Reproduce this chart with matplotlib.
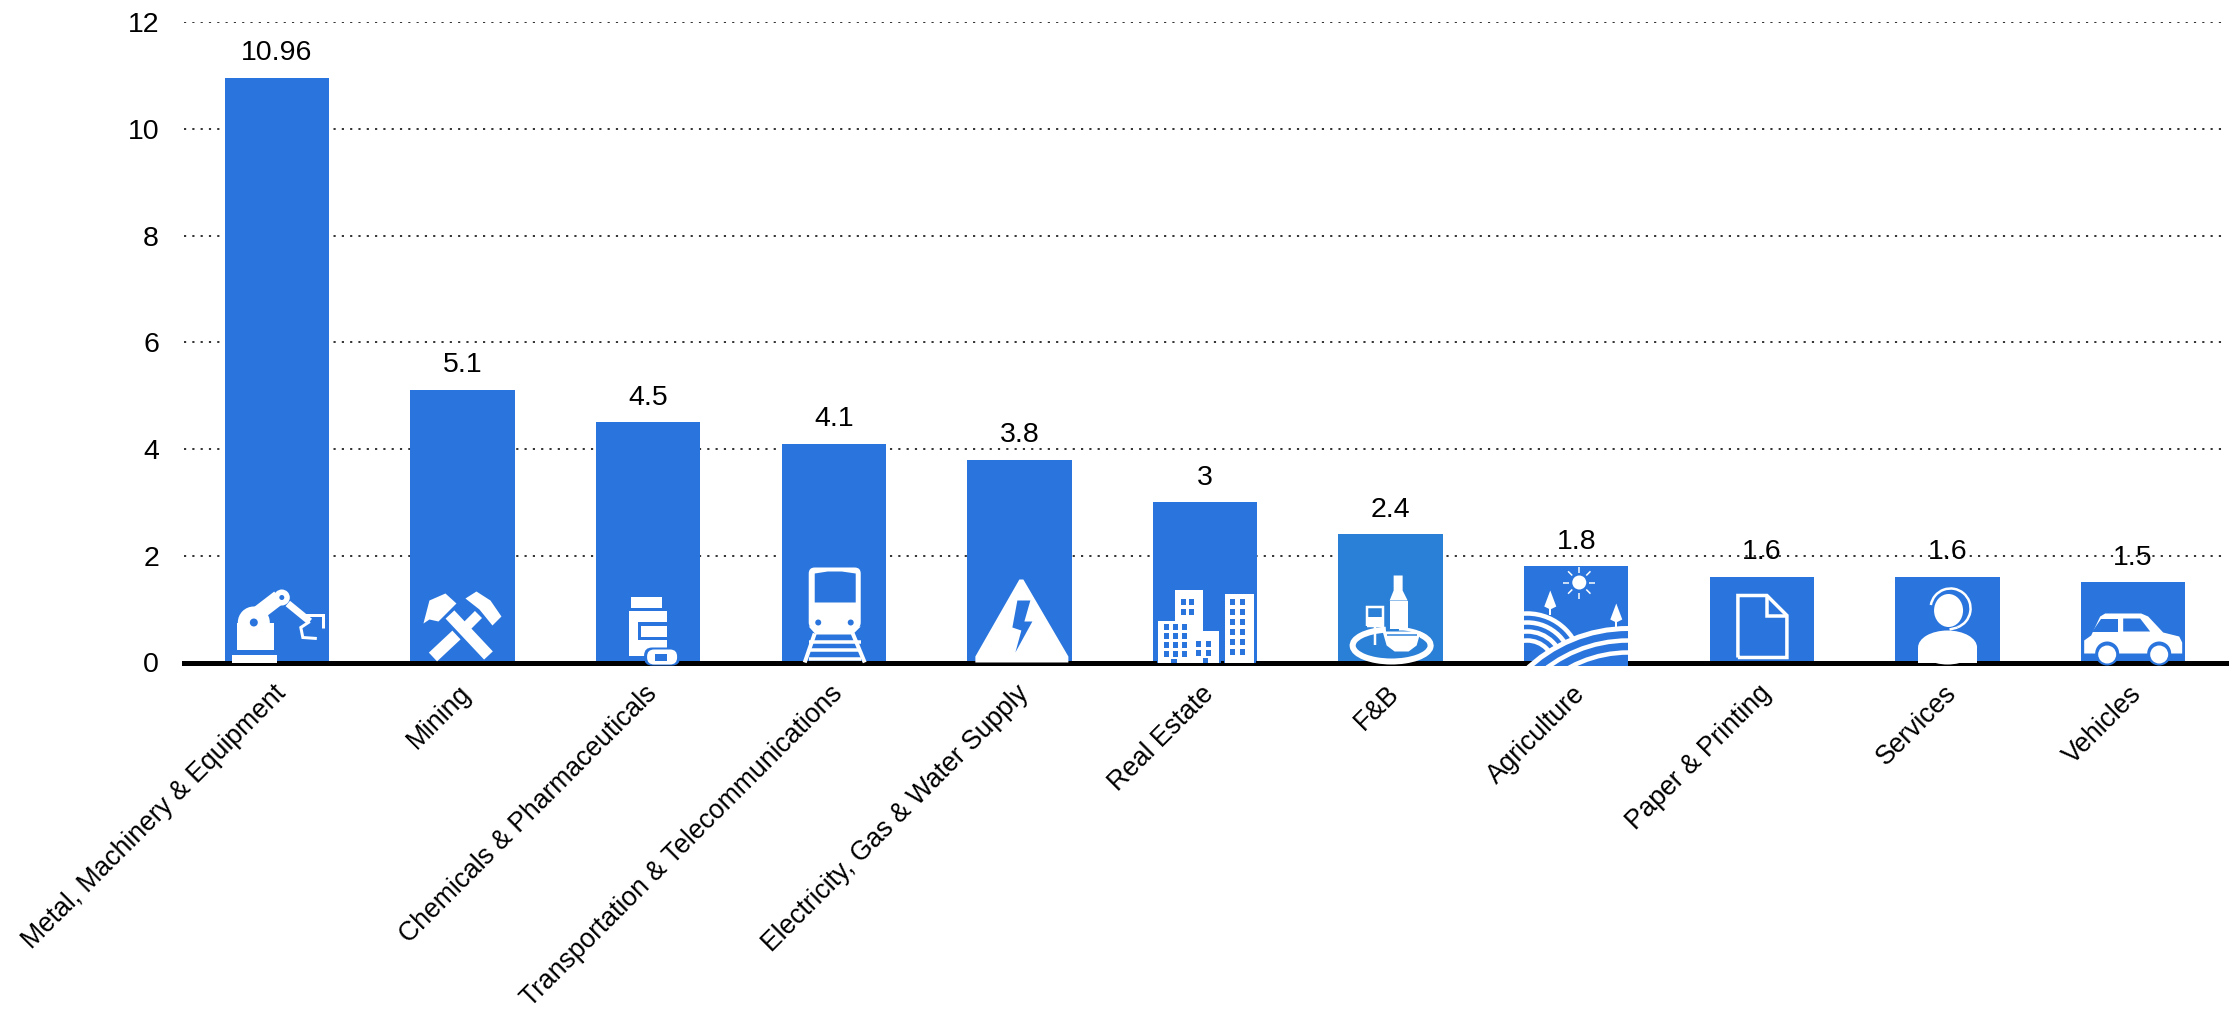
import matplotlib
matplotlib.use("Agg")
import matplotlib.pyplot as plt
from matplotlib.patches import Polygon, Circle, Rectangle, Ellipse, FancyBboxPatch, Arc
from matplotlib.transforms import Affine2D

plt.rcParams['font.family'] = ['Liberation Sans', 'DejaVu Sans']

categories = ["Metal, Machinery & Equipment", "Mining", "Chemicals & Pharmaceuticals",
              "Transportation & Telecommunications", "Electricity, Gas & Water Supply",
              "Real Estate", "F&B", "Agriculture", "Paper & Printing", "Services", "Vehicles"]
values = [10.96, 5.1, 4.5, 4.1, 3.8, 3, 2.4, 1.8, 1.6, 1.6, 1.5]
value_labels = ["10.96", "5.1", "4.5", "4.1", "3.8", "3", "2.4", "1.8", "1.6", "1.6", "1.5"]
y_ticks = [0, 2, 4, 6, 8, 10, 12]

BLUE = "#2a75dd"
FB_BLUE = "#2a7fd6"
W = "white"

W_PX, H_PX = 2237, 1011
fig = plt.figure(figsize=(W_PX / 100, H_PX / 100), dpi=100, facecolor="white")
L, R, T, B = 184, 2226, 22, 662.5
ax = fig.add_axes([L / W_PX, 1 - B / H_PX, (R - L) / W_PX, (B - T) / H_PX])
ax.set_xlim(-0.5, len(categories) - 0.5)
ax.set_ylim(0, 12)

colors = [FB_BLUE if c == "F&B" else BLUE for c in categories]
ax.bar(range(len(values)), values, width=0.5625, color=colors, zorder=2)
ax.set_axisbelow(True)
ax.yaxis.grid(True, color="#222222", linewidth=1.3, linestyle=(0, (1.2, 3.4)), zorder=1)
ax.xaxis.grid(False)
for s in ["top", "right", "left"]:
    ax.spines[s].set_visible(False)
ax.spines["bottom"].set_linewidth(3.6)
ax.spines["bottom"].set_color("black")
ax.spines["bottom"].set_zorder(3)
ax.set_yticks(y_ticks)
ax.tick_params(axis="y", length=0, pad=18, labelsize=20.5, labelcolor="#000000")
ax.tick_params(axis="x", length=0)
ax.set_xticks(range(len(categories)))
ax.set_xticklabels([])
for i, c in enumerate(categories):
    ax.annotate(c, (i, 0), xytext=(-3, -13), textcoords="offset points", rotation=45,
                ha="right", va="top", rotation_mode="anchor", fontsize=19.1, color="#000000",
                annotation_clip=False)
for i, (v, t) in enumerate(zip(values, value_labels)):
    ax.annotate(t, (i, v), xytext=(0, 8.5), textcoords="offset points", ha="center",
                va="bottom", fontsize=20.5, color="#000000", zorder=5)

px_x = (R - L) / len(categories)
px_y = (B - T) / 12
pt = 0.72


def tr(i):
    return Affine2D().scale(1 / px_x, 1 / px_y).translate(i, 0) + ax.transData


def add(i, p, z=4):
    p.set_transform(tr(i))
    p.set_zorder(z)
    p.set_clip_on(False)
    ax.add_patch(p)
    return p


def poly(i, pts, c=W, z=4):
    return add(i, Polygon(pts, closed=True, facecolor=c, edgecolor="none"), z)


def rect(i, x0, x1, y0, y1, c=W, z=4):
    return add(i, Rectangle((x0, y0), x1 - x0, y1 - y0, facecolor=c, edgecolor="none"), z)


def circ(i, x, y, r, c=W, z=4):
    return add(i, Circle((x, y), r, facecolor=c, edgecolor="none"), z)


def line(i, xs, ys, w=3, c=W, z=4, cap="butt"):
    l, = ax.plot(xs, ys, color=c, lw=w * pt, transform=tr(i), zorder=z, clip_on=False,
                 solid_capstyle=cap, solid_joinstyle="miter")
    return l


# robot arm
i = 0
rect(i, -45, 0, 0, 8)
rect(i, -40, -3, 13, 40)
circ(i, -23, 40, 16)
line(i, [-28, 2], [42, 65], 15)
circ(i, -23, 40, 4, BLUE, 5)
circ(i, 5, 65, 8)
circ(i, 5, 65, 2.5, BLUE, 5)
line(i, [11, 33], [59, 41], 7)
line(i, [26, 46, 46], [48, 48, 35], 3)
line(i, [33, 24, 26, 40], [41, 35, 25, 24], 3)

# crossed hammers
i = 1
line(i, [-12.5, 26], [48, 7], 12)
line(i, [-6, -29.5], [27.5, 5.5], 12)
line(i, [16, 5], [48, 37], 10)
poly(i, [(-39, 39), (-33, 62), (-17, 69), (-6, 59), (-24, 41), (-33, 43)])
poly(i, [(3, 64), (14, 71), (28, 62), (39, 46), (30, 37), (17, 53)])

# medicine bottle
i = 2
rect(i, -17, 14, 55, 66)
rect(i, -19, 19, 7, 52)
rect(i, -10, 19, 23, 41, BLUE, 5)
rect(i, -7, 19, 26, 37, W, 5)
add(i, FancyBboxPatch((-4, -3), 36, 18, boxstyle="round,pad=0,rounding_size=8",
                      facecolor=BLUE, edgecolor="none"), 5)
add(i, FancyBboxPatch((-1, -2), 30, 15, boxstyle="round,pad=0,rounding_size=7",
                      facecolor=W, edgecolor="none"), 6)
rect(i, 7, 19, 2, 9, BLUE, 7)

# train
i = 3
add(i, FancyBboxPatch((-25, 34), 52, 61, boxstyle="round,pad=0,rounding_size=6",
                      facecolor=W, edgecolor="none"))
poly(i, [(-19, 89), (-6, 91), (8, 91), (22, 89), (22, 60), (-19, 60)], BLUE, 5)
circ(i, -15.5, 40, 3, BLUE, 5)
circ(i, 17, 40, 3, BLUE, 5)
poly(i, [(-25, 36), (27, 36), (19, 28), (-18, 28)])
line(i, [-19, -29], [29, 0], 4)
line(i, [19, 31], [29, 0], 4)
for y in [4, 13, 21]:
    line(i, [-25, 27], [y, y], 3.5)

# warning triangle with bolt
i = 4
poly(i, [(-44, 0), (-44, 6), (0, 83), (4, 83), (49, 6), (49, 0)])
poly(i, [(-2, 62), (11, 62), (5, 41), (13, 41), (-4, 10), (2, 32), (-7, 35)], BLUE, 5)

# buildings
i = 5
for x0, x1, top in [(-30, -2, 73), (20, 49, 69), (-47, -18, 42), (-14, 14, 32)]:
    rect(i, x0 - 1.5, x1 + 1.5, 0, top + 1.5, BLUE, 4)
    rect(i, x0, x1, 0, top, W, 5)
for x0, rows, cols in [(-41, [6, 15, 24, 33], [0, 9, 18]),
                       (-24, [48, 58], [0, 8]),
                       (-9, [7, 16], [0, 10]),
                       (25, [8, 18, 28, 38, 48, 58], [0, 10])]:
    for y in rows:
        for dx in cols:
            rect(i, x0 + dx, x0 + dx + 4.5, y, y + 5.5, BLUE, 6)
rect(i, -34, -28, 0, 4, BLUE, 6)
rect(i, -2, 3, 0, 5, BLUE, 6)

# food and drink
i = 6
rect(i, -1, 17, 34, 62)
poly(i, [(-1, 62), (3, 72), (3, 87), (12, 87), (12, 72), (17, 62)])
line(i, [-24, -24, -8, -8, -24], [37, 56, 56, 37, 37], 2.5)
rect(i, -24, -8, 37, 46)
line(i, [-16, -16], [37, 18], 2.5)
add(i, Arc((1, 17), 78, 32, theta1=-250, theta2=65, edgecolor=W, lw=6 * pt))
add(i, Ellipse((11, 22), 38, 20, facecolor=FB_BLUE, edgecolor="none"), 5)
poly(i, [(-8, 31), (30, 31), (26, 17), (18, 11), (4, 11), (-4, 17)], W, 6)
line(i, [-4, 26], [28, 28], 1.5, FB_BLUE, 7)

# agriculture
i = 7
clip = Rectangle((-52, -3), 104, 97, transform=tr(i))
for r in [54, 45, 36, 27]:
    a = add(i, Circle((-49, -5), r, facecolor="none", edgecolor=W, lw=4.5 * pt))
    a.set_clip_on(True)
    a.set_clip_path(clip)
hill = add(i, Circle((52, -113), 147, facecolor=BLUE, edgecolor=W, lw=5 * pt), 5)
hill.set_clip_on(True)
hill.set_clip_path(clip)
for r in [135, 123]:
    a = add(i, Circle((52, -113), r, facecolor="none", edgecolor=W, lw=4.5 * pt), 6)
    a.set_clip_on(True)
    a.set_clip_path(clip)
circ(i, 3, 80, 7)
for dx, dy in [(0, 1), (.7, .7), (1, 0), (.7, -.7), (0, -1), (-.7, -.7), (-1, 0), (-.7, .7)]:
    line(i, [3 + 10 * dx, 3 + 16 * dx], [80 + 10 * dy, 80 + 16 * dy], 1.5)
for x, y in [(-26, 48), (40, 35)]:
    line(i, [x, x], [y, y + 10], 2)
    poly(i, [(x - 6, y + 8), (x, y + 24), (x + 6, y + 8), (x, y + 5)])

# paper
i = 8
line(i, [-24, -24, 5, 25, 25, -24], [5, 67, 67, 47, 5, 5], 3.5)
line(i, [5, 5, 25], [67, 47, 47], 3.5)

# service agent
i = 9
add(i, Ellipse((0, 15), 59, 34, facecolor=W, edgecolor="none"))
rect(i, -29.5, 29.5, 0, 15)
add(i, Ellipse((1, 52), 29, 33, facecolor=W, edgecolor="none"))
add(i, Arc((3, 54), 40, 40, theta1=-70, theta2=170, edgecolor=W, lw=2.5 * pt))
line(i, [10, 2], [35, 33], 2.5)

# car
i = 10
poly(i, [(-49, 9), (-49, 22), (-42, 27), (-33, 46), (-28, 49), (8, 49), (15, 46), (30, 30),
         (46, 26), (49, 20), (49, 9)])
poly(i, [(-41, 31), (-15, 31), (-15, 44), (-32, 44)], BLUE, 5)
poly(i, [(-10, 31), (17, 31), (7, 44), (-10, 44)], BLUE, 5)
for x in (-26, 26):
    circ(i, x, 9, 12, BLUE, 5)
    circ(i, x, 8, 9, W, 6)

fig.savefig("out.png", dpi=100, facecolor="white")
